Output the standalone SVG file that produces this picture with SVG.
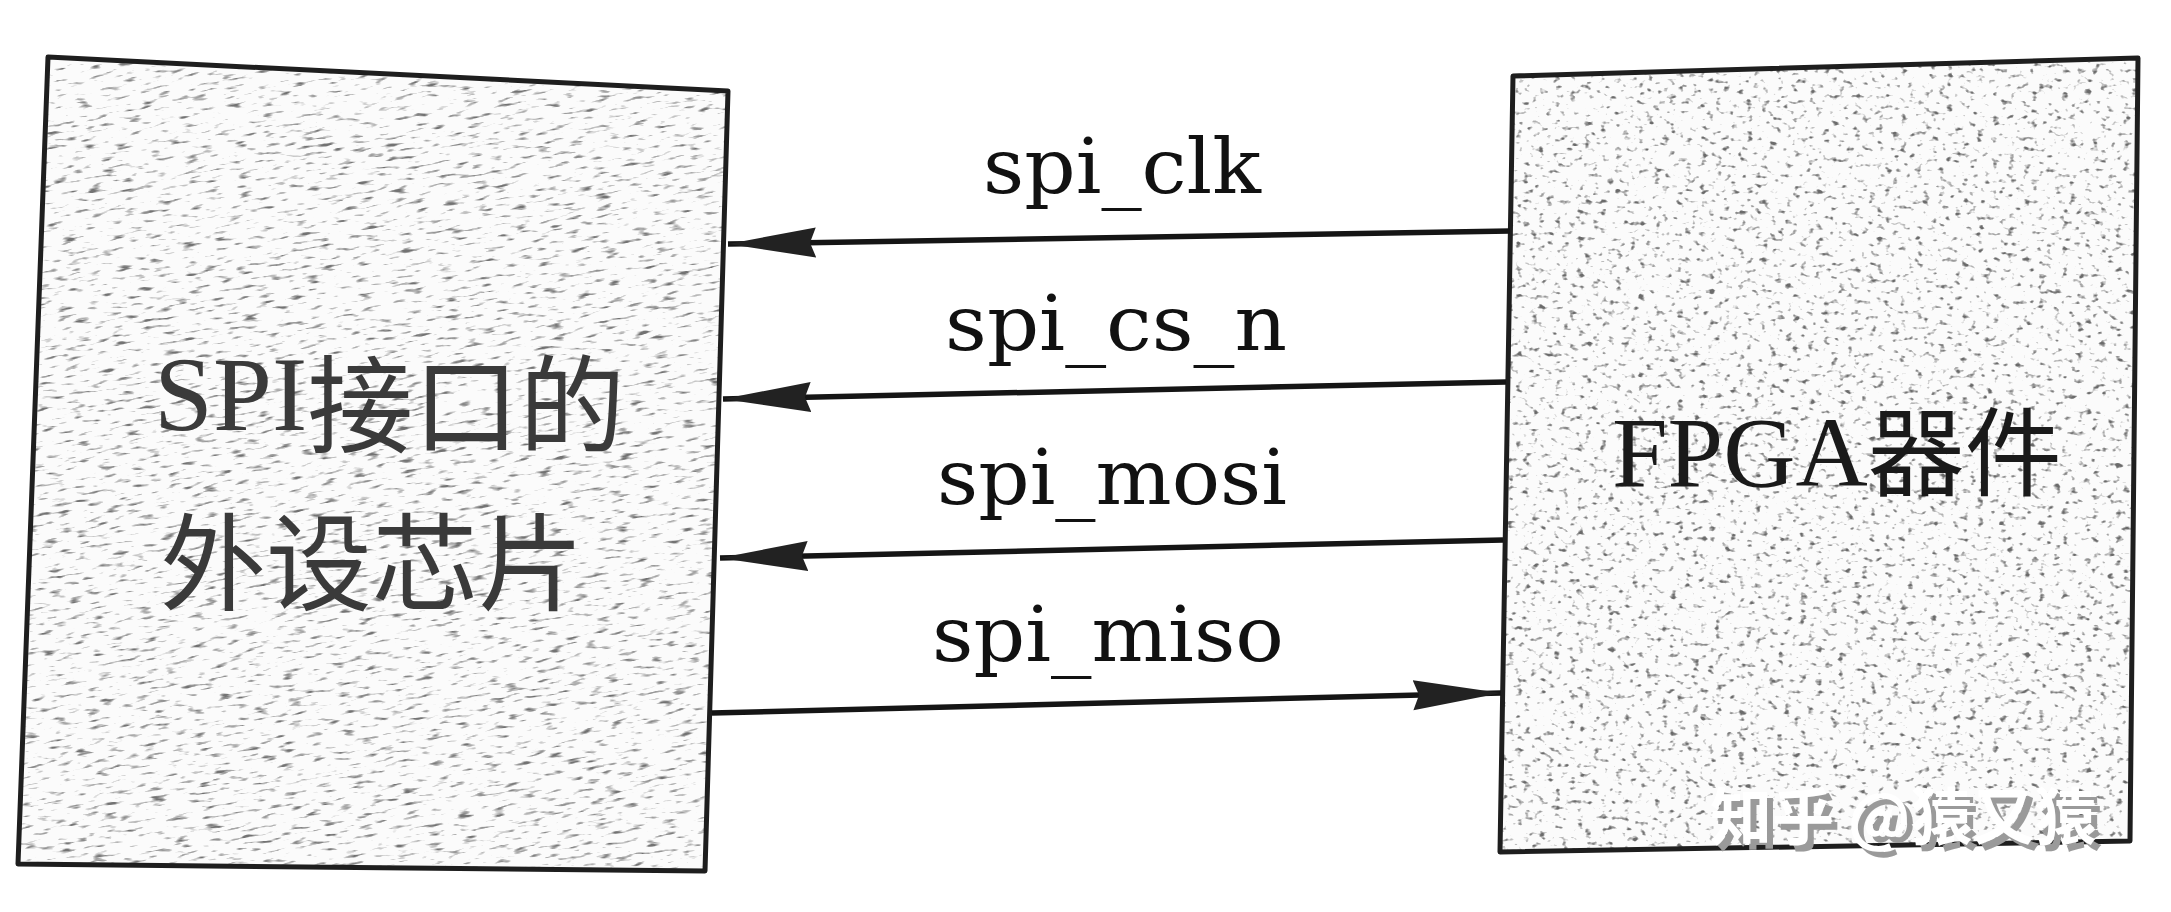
<svg xmlns="http://www.w3.org/2000/svg" width="2171" height="912" viewBox="0 0 2171 912">
  <style>
    .box { fill: none; stroke: #1e1e1e; stroke-width: 5; stroke-linejoin: round; }
    .base { fill: #fbfbfb; }
    .wire { fill: none; stroke: #151515; stroke-width: 5.5; }
    .lbl { font-family: "DejaVu Serif", "Liberation Serif", serif; font-size: 76px; fill: #111; }
    .name { font-family: "Liberation Serif", "Noto Sans CJK SC", serif; fill: #3a3a3a; }
    .cjk { font-family: "Noto Sans CJK SC", sans-serif; }
    .wm { font-family: "Noto Sans CJK SC", sans-serif; font-size: 62px; font-weight: 700; fill: #ffffff; }
  </style>
  <defs>
    <marker id="arr" viewBox="0 -17 90 34" refX="88" refY="0" markerWidth="90" markerHeight="34" markerUnits="userSpaceOnUse" orient="auto">
      <path d="M0,-15 L88,0 L0,15 L6,0 Z" fill="#222"/>
    </marker>
    <filter id="streak" x="0" y="0" width="1" height="1" color-interpolation-filters="sRGB">
      <feTurbulence type="fractalNoise" baseFrequency="0.06 0.28" numOctaves="2" seed="7"/>
      <feColorMatrix type="matrix" values="0 0 0 0 0.45  0 0 0 0 0.45  0 0 0 0 0.45  5 0 0 0 -2.9"/>
    </filter>
    <filter id="speck" x="0" y="0" width="1" height="1" color-interpolation-filters="sRGB">
      <feTurbulence type="fractalNoise" baseFrequency="0.13 0.19" numOctaves="2" seed="3"/>
      <feColorMatrix type="matrix" values="0 0 0 0 0.42  0 0 0 0 0.42  0 0 0 0 0.42  5 0 0 0 -3.0"/>
    </filter>
    <filter id="shadow" x="-5%" y="-20%" width="115%" height="150%" color-interpolation-filters="sRGB">
      <feOffset in="SourceAlpha" dx="6" dy="6" result="off"/>
      <feFlood flood-color="#9a9a9a"/>
      <feComposite in2="off" operator="in" result="sh"/>
      <feMerge><feMergeNode in="sh"/><feMergeNode in="SourceGraphic"/></feMerge>
    </filter>
    <clipPath id="clipL"><polygon points="48,57 728,91 705,871 18,864"/></clipPath>
    <clipPath id="clipR"><polygon points="1513,76 2138,58 2130,841 1500,852"/></clipPath>
  </defs>

  <rect width="2171" height="912" fill="#ffffff"/>

  <g id="node-peripheral">
    <polygon class="base" points="48,57 728,91 705,871 18,864"/>
    <g clip-path="url(#clipL)">
      <rect x="-100" y="-50" width="950" height="1050" fill="#fff" filter="url(#streak)" transform="rotate(-9 375 460)"/>
    </g>
    <polygon class="box" points="48,57 728,91 705,871 18,864"/>
    <text class="name" font-size="106"><tspan x="154" y="430">SPI</tspan><tspan class="cjk" y="444">接口的</tspan></text>
    <text class="name cjk" font-size="106" x="160" y="602">外设芯片</text>
  </g>

  <g id="node-fpga">
    <polygon class="base" points="1513,76 2138,58 2130,841 1500,852"/>
    <g clip-path="url(#clipR)">
      <rect x="1490" y="50" width="660" height="810" fill="#fff" filter="url(#speck)"/>
    </g>
    <polygon class="box" points="1513,76 2138,58 2130,841 1500,852"/>
    <text class="name" font-size="100" fill="#1a1a1a" style="fill:#1a1a1a"><tspan x="1612" y="486">FPGA</tspan><tspan class="cjk" font-size="97" y="488">器件</tspan></text>
  </g>

  <g id="connectors">
    <line class="wire" x1="1510" y1="231" x2="728" y2="244" marker-end="url(#arr)"/>
    <line class="wire" x1="1506" y1="382" x2="723" y2="399" marker-end="url(#arr)"/>
    <line class="wire" x1="1503" y1="540" x2="720" y2="558" marker-end="url(#arr)"/>
    <line class="wire" x1="712" y1="713" x2="1501" y2="693" marker-end="url(#arr)"/>
    <text class="lbl" x="983" y="193" textLength="278" lengthAdjust="spacingAndGlyphs">spi_clk</text>
    <text class="lbl" x="945" y="350" textLength="342" lengthAdjust="spacingAndGlyphs">spi_cs_n</text>
    <text class="lbl" x="937" y="504" textLength="350" lengthAdjust="spacingAndGlyphs">spi_mosi</text>
    <text class="lbl" x="932" y="661" textLength="352" lengthAdjust="spacingAndGlyphs">spi_miso</text>
  </g>

  <g id="watermark">
    <text class="wm" x="1710" y="840" filter="url(#shadow)">知乎 @猿又猿</text>
  </g>
</svg>
